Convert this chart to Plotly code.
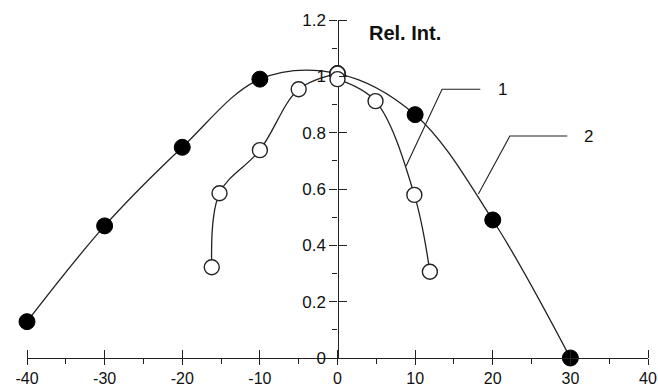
import plotly.graph_objects as go

# Series 2 (filled circles)
s2_x = [-40, -30, -20, -10, 0, 10, 20, 30]
s2_y = [0.129, 0.469, 0.748, 0.990, 1.01, 0.864, 0.49, 0.0]

# Series 1 (open circles), left and right branches
s1_left_x = [-16.2, -15.2, -10, -5, 0]
s1_left_y = [0.322, 0.585, 0.738, 0.954, 1.01]
s1_right_x = [0, 4.9, 9.9, 11.9]
s1_right_y = [0.99, 0.912, 0.579, 0.306]

x_ticks = [-40, -30, -20, -10, 0, 10, 20, 30, 40]
x_ticklabels = ["-40", "-30", "-20", "-10", "0", "10", "20", "30", "40"]
y_ticks = [0, 0.2, 0.4, 0.6, 0.8, 1, 1.2]
y_ticklabels = ["0", "0.2", "0.4", "0.6", "0.8", "1", "1.2"]

X_MIN, X_MAX = -40, 40
Y_MIN, Y_MAX = 0, 1.2

LINE = "#222222"
FONT = "Arial, Liberation Sans, sans-serif"

# ---- geometry (pixels) ----
W, H = 658, 388
ML, MR, MT, MB = 22, 5, 15, 25          # margins of the paper plot area
PX_L, PX_R = 27, 648                    # main x range ends
PX_T, PX_B = 20, 358                    # main y range ends
area_w = W - ML - MR
area_h = H - MT - MB
xd = [(PX_L - ML) / area_w, (PX_R - ML) / area_w]
yd = [(H - MB - PX_B) / area_h, (H - MB - PX_T) / area_h]
sx = (PX_R - PX_L) / (X_MAX - X_MIN)
sy = (PX_B - PX_T) / (Y_MAX - Y_MIN)
x2_range = [X_MIN - (PX_L - ML) / sx, X_MAX + (W - MR - PX_R) / sx]
y2_range = [Y_MIN - ((H - MB) - PX_B) / sy, Y_MAX + (PX_T - MT) / sy]
ypos = xd[0] + (xd[1] - xd[0]) * (0 - X_MIN) / (X_MAX - X_MIN)   # x = 0 in paper fraction

fig = go.Figure()

fig.add_trace(go.Scatter(
    x=s2_x, y=s2_y, mode="lines+markers",
    line=dict(color=LINE, width=1.3, shape="spline", smoothing=1.0),
    marker=dict(size=16, color="black", line=dict(color="black", width=1)),
    cliponaxis=False, showlegend=False))

for xs, ys in ((s1_left_x, s1_left_y), (s1_right_x, s1_right_y)):
    fig.add_trace(go.Scatter(
        x=xs, y=ys, mode="lines+markers", xaxis="x2", yaxis="y2",
        line=dict(color=LINE, width=1.3, shape="spline", smoothing=1.0),
        marker=dict(size=15, color="white", line=dict(color=LINE, width=1.4)),
        cliponaxis=False, showlegend=False))

fig.add_shape(type="path", path="M 8.84,0.682 L 13.47,0.954 L 18.4,0.954",
              xref="x", yref="y", line=dict(color=LINE, width=1.1))
fig.add_shape(type="path", path="M 18.15,0.582 L 22.2,0.788 L 29.6,0.788",
              xref="x", yref="y", line=dict(color=LINE, width=1.1))

fig.add_annotation(x=21.2, y=0.955, xref="x", yref="y", text="1", showarrow=False,
                   xanchor="center", yanchor="middle", font=dict(size=17, color="#111", family=FONT))
fig.add_annotation(x=32.3, y=0.788, xref="x", yref="y", text="2", showarrow=False,
                   xanchor="center", yanchor="middle", font=dict(size=17, color="#111", family=FONT))
fig.add_annotation(x=3.8, y=1.155, xref="x", yref="y", text="<b>Rel. Int.</b>", showarrow=False,
                   xanchor="left", yanchor="middle", font=dict(size=20, color="#111", family=FONT))
fig.add_annotation(x=40.9, y=0.129, xref="x", yref="y", text="<b>X, mm</b>", showarrow=False,
                   xanchor="right", yanchor="middle", font=dict(size=20, color="#111", family=FONT))

fig.update_layout(
    width=W, height=H,
    margin=dict(l=ML, r=MR, t=MT, b=MB, autoexpand=False),
    paper_bgcolor="white", plot_bgcolor="rgba(0,0,0,0)",
    font=dict(family=FONT, size=17, color="#111"),
    xaxis=dict(domain=xd, range=[X_MIN, X_MAX], anchor="y", showgrid=False, zeroline=False,
               showline=True, linecolor=LINE, linewidth=1.3, automargin=False,
               ticks="outside", ticklen=6, tickwidth=1.3, tickcolor=LINE,
               tickmode="array", tickvals=x_ticks, ticktext=x_ticklabels,
               minor=dict(ticks="outside", ticklen=5, tickwidth=1.1, tickcolor=LINE, dtick=5, tick0=0),
               tickfont=dict(size=16), fixedrange=True),
    yaxis=dict(domain=yd, range=[Y_MIN, Y_MAX], anchor="free", position=ypos,
               showgrid=False, zeroline=False, automargin=False,
               showline=True, linecolor=LINE, linewidth=1.3,
               ticks="outside", ticklen=8, tickwidth=1.3, tickcolor=LINE,
               tickmode="array", tickvals=y_ticks, ticktext=y_ticklabels,
               minor=dict(ticks="outside", ticklen=5, tickwidth=1.1, tickcolor=LINE, dtick=0.1, tick0=0),
               tickfont=dict(size=17), fixedrange=True),
    # second, slightly larger subplot with identical scale: inner halves of the crossing ticks
    xaxis2=dict(domain=[0, 1], range=x2_range, anchor="free", position=yd[0], side="bottom",
                showgrid=False, zeroline=False, showline=False, automargin=False,
                ticks="inside", ticklen=8, tickwidth=1.3, tickcolor=LINE,
                tickmode="array", tickvals=x_ticks, showticklabels=False, fixedrange=True),
    yaxis2=dict(domain=[0, 1], range=y2_range, anchor="free", position=ypos, side="left",
                showgrid=False, zeroline=False, showline=False, automargin=False,
                ticks="inside", ticklen=8, tickwidth=1.3, tickcolor=LINE,
                tickmode="array", tickvals=y_ticks[1:], showticklabels=False, fixedrange=True),
)

fig.write_html("out.html", config={"displayModeBar": False},
               post_script="document.body.style.margin='0px';document.body.style.overflow='hidden';")
